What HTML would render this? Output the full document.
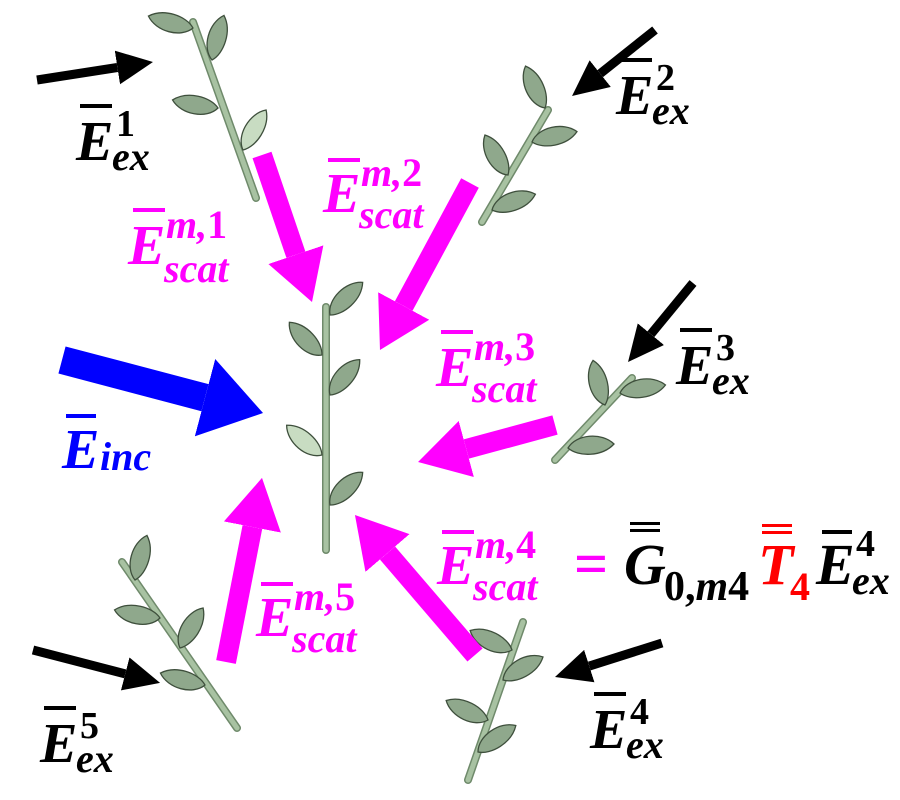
<!DOCTYPE html>
<html><head><meta charset="utf-8"><style>
html,body{margin:0;padding:0;background:#fff}
svg{display:block}
text{font-family:"Liberation Serif",serif;font-weight:bold;font-style:italic}
.up{font-style:normal}
</style></head><body>
<svg width="900" height="800" viewBox="0 0 900 800" xmlns="http://www.w3.org/2000/svg">
<defs>
<marker id="hk" markerUnits="userSpaceOnUse" viewBox="0 0 36 34" refX="0" refY="17" markerWidth="36" markerHeight="34" orient="auto"><path d="M0,0L36,17L0,34z" fill="#000"/></marker>
<marker id="hm" markerUnits="userSpaceOnUse" viewBox="0 0 50 58" refX="0" refY="29" markerWidth="50" markerHeight="58" orient="auto"><path d="M0,0L50,29L0,58z" fill="#ff00ff"/></marker>
<marker id="hb" markerUnits="userSpaceOnUse" viewBox="0 0 60 80" refX="0" refY="40" markerWidth="60" markerHeight="80" orient="auto"><path d="M0,0L60,40L0,80z" fill="#0000ff"/></marker>
<g id="leaf"><path d="M0,0 C8,-14 34,-16 46,-4 C34,9 10,9 0,0z" fill="#8fa88c" stroke="#3e4f3c" stroke-width="1.3"/></g>
<g id="leafL"><path d="M0,0 C8,-14 34,-16 46,-4 C34,9 10,9 0,0z" fill="#c8dcc2" stroke="#3e4f3c" stroke-width="1.3"/></g>
</defs>

<g stroke-linecap="round">
<line x1="193" y1="22" x2="256" y2="198" stroke="#6f8a6b" stroke-width="8"/>
<line x1="193" y1="22" x2="256" y2="198" stroke="#a8c2a2" stroke-width="5"/>
<use href="#leaf" transform="translate(193,28) rotate(200)"/>
<use href="#leaf" transform="translate(212,60) rotate(-70)"/>
<use href="#leaf" transform="translate(218,108) rotate(195)"/>
<use href="#leafL" transform="translate(243,150) rotate(-55)"/>
<line x1="548" y1="110" x2="482" y2="222" stroke="#6f8a6b" stroke-width="8"/>
<line x1="548" y1="110" x2="482" y2="222" stroke="#a8c2a2" stroke-width="5"/>
<use href="#leaf" transform="translate(545,108) rotate(-110)"/>
<use href="#leaf" transform="translate(532,142) rotate(-8)"/>
<use href="#leaf" transform="translate(508,175) rotate(-115)"/>
<use href="#leaf" transform="translate(492,210) rotate(-15)"/>
<line x1="326" y1="307" x2="326" y2="550" stroke="#6f8a6b" stroke-width="8"/>
<line x1="326" y1="307" x2="326" y2="550" stroke="#a8c2a2" stroke-width="5"/>
<use href="#leaf" transform="translate(330,315) rotate(-40)"/>
<use href="#leaf" transform="translate(322,355) rotate(-130)"/>
<use href="#leaf" transform="translate(330,395) rotate(-45)"/>
<use href="#leafL" transform="translate(322,455) rotate(-135)"/>
<use href="#leaf" transform="translate(330,505) rotate(-40)"/>
<line x1="632" y1="378" x2="555" y2="460" stroke="#6f8a6b" stroke-width="8"/>
<line x1="632" y1="378" x2="555" y2="460" stroke="#a8c2a2" stroke-width="5"/>
<use href="#leaf" transform="translate(605,405) rotate(-100)"/>
<use href="#leaf" transform="translate(620,393) rotate(-5)"/>
<use href="#leaf" transform="translate(568,448) rotate(0)"/>
<line x1="523" y1="622" x2="468" y2="780" stroke="#6f8a6b" stroke-width="8"/>
<line x1="523" y1="622" x2="468" y2="780" stroke="#a8c2a2" stroke-width="5"/>
<use href="#leaf" transform="translate(512,650) rotate(-150)"/>
<use href="#leaf" transform="translate(503,680) rotate(-25)"/>
<use href="#leaf" transform="translate(488,720) rotate(-150)"/>
<use href="#leaf" transform="translate(478,752) rotate(-30)"/>
<line x1="122" y1="562" x2="237" y2="728" stroke="#6f8a6b" stroke-width="8"/>
<line x1="122" y1="562" x2="237" y2="728" stroke="#a8c2a2" stroke-width="5"/>
<use href="#leaf" transform="translate(135,580) rotate(-70)"/>
<use href="#leaf" transform="translate(160,618) rotate(195)"/>
<use href="#leaf" transform="translate(180,648) rotate(-55)"/>
<use href="#leaf" transform="translate(205,685) rotate(200)"/>
</g>

<g fill="none">
<line x1="37" y1="80" x2="117.4" y2="67.5" stroke="#000" stroke-width="9" marker-end="url(#hk)"/>
<line x1="655" y1="30" x2="600.2" y2="73.6" stroke="#000" stroke-width="9" marker-end="url(#hk)"/>
<line x1="693" y1="283" x2="650.9" y2="334.2" stroke="#000" stroke-width="9" marker-end="url(#hk)"/>
<line x1="662" y1="643" x2="589.3" y2="666.1" stroke="#000" stroke-width="9" marker-end="url(#hk)"/>
<line x1="33" y1="650" x2="125.2" y2="673.9" stroke="#000" stroke-width="9" marker-end="url(#hk)"/>
<line x1="62" y1="360" x2="205" y2="397.7" stroke="#0000ff" stroke-width="28" marker-end="url(#hb)"/>
<line x1="262" y1="155" x2="295.9" y2="254.7" stroke="#ff00ff" stroke-width="20" marker-end="url(#hm)"/>
<line x1="470" y1="183" x2="403.7" y2="306" stroke="#ff00ff" stroke-width="20" marker-end="url(#hm)"/>
<line x1="555" y1="425" x2="466.3" y2="449" stroke="#ff00ff" stroke-width="20" marker-end="url(#hm)"/>
<line x1="475" y1="655" x2="387.5" y2="553" stroke="#ff00ff" stroke-width="20" marker-end="url(#hm)"/>
<line x1="226" y1="662" x2="252.4" y2="527" stroke="#ff00ff" stroke-width="20" marker-end="url(#hm)"/>
</g>

<g fill="#000">
<rect x="80" y="104" width="32" height="4"/>
<text x="76" y="160" font-size="56">E</text>
<text x="116" y="136" font-size="38" class="up">1</text>
<text x="112" y="170" font-size="40">ex</text>
<rect x="620" y="58" width="32" height="4"/>
<text x="616" y="114" font-size="56">E</text>
<text x="656" y="90" font-size="38" class="up">2</text>
<text x="652" y="124" font-size="40">ex</text>
<rect x="680" y="328" width="32" height="4"/>
<text x="676" y="384" font-size="56">E</text>
<text x="716" y="360" font-size="38" class="up">3</text>
<text x="712" y="394" font-size="40">ex</text>
<rect x="594" y="692" width="32" height="4"/>
<text x="590" y="748" font-size="56">E</text>
<text x="630" y="724" font-size="38" class="up">4</text>
<text x="626" y="758" font-size="40">ex</text>
<rect x="44" y="706" width="32" height="4"/>
<text x="40" y="762" font-size="56">E</text>
<text x="80" y="738" font-size="38" class="up">5</text>
<text x="76" y="772" font-size="40">ex</text>
</g>
<g fill="#0000ff">
<rect x="66" y="414" width="30" height="4"/>
<text x="62" y="468" font-size="56">E</text>
<text x="100" y="470" font-size="40">inc</text>
</g>
<g fill="#ff00ff">
<rect x="133" y="208" width="32" height="4"/>
<text x="128" y="264" font-size="56">E</text>
<text x="166" y="238" font-size="40">m,<tspan class="up">1</tspan></text>
<text x="164" y="282" font-size="40">scat</text>
<rect x="328" y="158" width="32" height="4"/>
<text x="323" y="212" font-size="56">E</text>
<text x="361" y="186" font-size="40">m,<tspan class="up">2</tspan></text>
<text x="359" y="228" font-size="40">scat</text>
<rect x="441" y="330" width="32" height="4"/>
<text x="436" y="386" font-size="56">E</text>
<text x="474" y="360" font-size="40">m,<tspan class="up">3</tspan></text>
<text x="472" y="402" font-size="40">scat</text>
<rect x="442" y="530" width="32" height="4"/>
<text x="437" y="584" font-size="56">E</text>
<text x="475" y="558" font-size="40">m,<tspan class="up">4</tspan></text>
<text x="473" y="600" font-size="40">scat</text>
<text x="574" y="584" font-size="60" class="up">=</text>
<rect x="261" y="582" width="32" height="4"/>
<text x="256" y="636" font-size="56">E</text>
<text x="294" y="610" font-size="40">m,<tspan class="up">5</tspan></text>
<text x="292" y="652" font-size="40">scat</text>
</g>
<g fill="#000">
<rect x="630" y="522" width="30" height="3"/><rect x="630" y="529" width="30" height="3"/>
<text x="624" y="584" font-size="58">G</text>
<text x="664" y="600" font-size="42"><tspan class="up">0,</tspan>m<tspan class="up">4</tspan></text>
</g>
<g fill="#ff0000">
<rect x="762" y="524" width="30" height="3"/><rect x="762" y="531" width="30" height="3"/>
<text x="758" y="584" font-size="58">T</text>
<text x="790" y="600" font-size="40" class="up">4</text>
</g>
<g fill="#000">
<rect x="822" y="530" width="30" height="4"/>
<text x="816" y="584" font-size="58">E</text>
<text x="856" y="556" font-size="38" class="up">4</text>
<text x="852" y="594" font-size="40">ex</text>
</g>
</svg>
</body></html>
